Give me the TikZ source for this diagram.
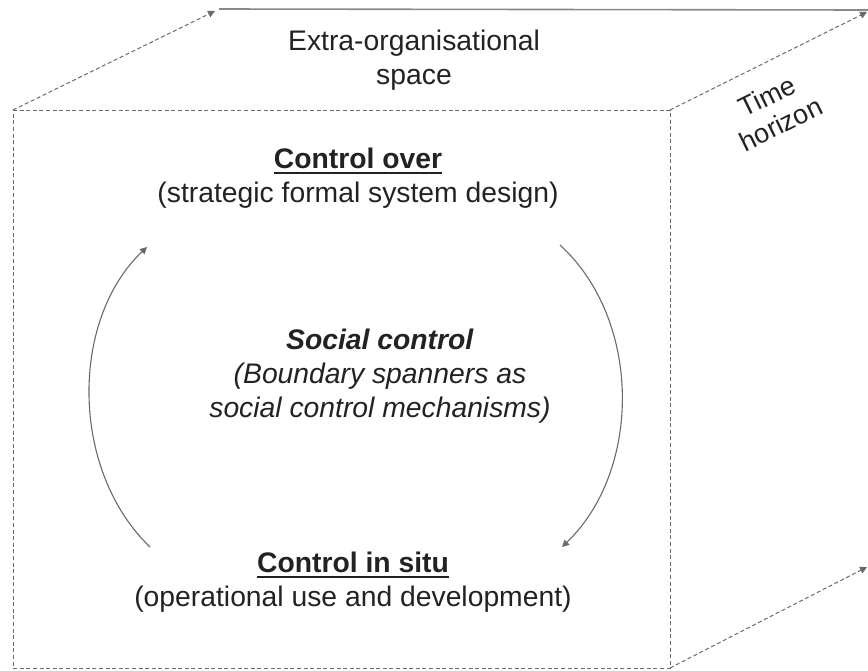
\documentclass[tikz,border=0pt]{standalone}
\usepackage{fontspec}
\setmainfont{Liberation Sans}
\usetikzlibrary{arrows.meta}
\newcommand{\ulbar}[1]{\setbox0\hbox{#1}\rlap{\color{textgray}\rule[-5.5pt]{\wd0}{1.8pt}}\box0}
\definecolor{textgray}{HTML}{222222}
\definecolor{edgegray}{HTML}{6A6A6A}
\begin{document}
\begin{tikzpicture}[x=1pt,y=-1pt,
  edge/.style={draw=edgegray,line width=1pt,dash pattern=on 4pt off 2.6pt},
  backedge/.style={draw=edgegray!80,line width=1.6pt},
  tip/.style={-{Triangle[length=7pt,width=7pt]}},
  cycle/.style={draw=edgegray,line width=1.1pt},
  label/.style={text=textgray,font=\fontsize{28.3}{34}\selectfont,align=center,inner sep=0pt}]
\useasboundingbox (0,0) rectangle (868,670);
% cube corners
\coordinate (ftl) at (13,110);
\coordinate (ftr) at (670,110);
\coordinate (fbr) at (670,668);
\coordinate (fbl) at (13,668);
\coordinate (btl) at (215,11);
\coordinate (btr) at (868,10);
\coordinate (rtop) at (867,12);
\coordinate (rbot) at (867,567);
% front face and receding edges
\draw[edge] (ftl) -- (ftr) -- (fbr) -- (fbl) -- cycle;
\draw[edge,tip] (ftl) -- (btl);
\draw[backedge] (219,9) -- (btr);
\draw[edge,tip] (ftr) -- (rtop);
\draw[edge,tip] (fbr) -- (rbot);
% labels
\node[label] (space) at (414,60) {Extra-organisational\\space};
\node[label,font=\fontsize{27}{31}\selectfont,rotate=26] (time) at (774,110) {Time\\horizon};
\node[label] (over) at (358,178) {\textbf{\ulbar{Control over}}\\(strategic formal system design)};
\node[label] (social) at (380,376) {\textbf{\textit{Social control}}\\\textit{(Boundary spanners as}\\\textit{social control mechanisms)}};
\node[label] (situ) at (353,582) {\textbf{\ulbar{Control in situ}}\\(operational use and development)};
% control cycle
\coordinate (la) at (150,547);
\coordinate (lb) at (147,247);
\coordinate (ra) at (560,245);
\coordinate (rb) at (562,547);
\draw[cycle,tip] (la) .. controls (70,470) and (70,320) .. (lb);
\draw[cycle,tip] (ra) .. controls (642,320) and (642,470) .. (rb);
\end{tikzpicture}
\end{document}
